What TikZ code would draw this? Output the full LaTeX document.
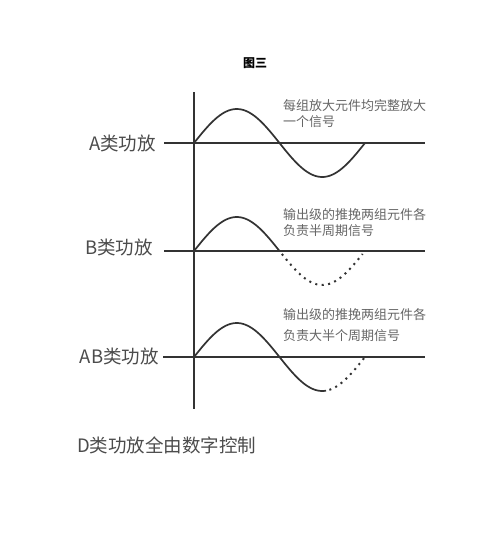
\documentclass[tikz,border=0pt]{standalone}
\usepackage{fontspec}
\newfontfamily\cjk{Noto Sans CJK SC}
\begin{document}
\begin{tikzpicture}[x=1pt,y=-1pt,
  axis/.style={draw=black!80, line width=1.7pt},
  wave/.style={draw=black!80, line width=1.7pt},
  dotwave/.style={draw=black!80, line width=2pt, dash pattern=on 2pt off 4.5pt},
  classlabel/.style={anchor=east, inner sep=0pt, text=black!70, font=\cjk\fontsize{18.5}{20}\selectfont},
  note/.style={anchor=north west, inner sep=0pt, align=left, text=black!60, font=\cjk\fontsize{13}{16}\selectfont},
  title/.style={inner sep=0pt, text=black, font=\cjk\bfseries\fontsize{12}{13}\selectfont}]
\useasboundingbox (0,0) rectangle (500,550);
\fill[white] (0,0) rectangle (500,550);
% title
\node[title] (title) at (255,63) {图三};
% vertical axis
\coordinate (vtop) at (194,92);
\coordinate (vbot) at (194,409);
\draw[axis] (vtop) -- (vbot);
% A
\coordinate (aL) at (164,143); \coordinate (aR) at (425,143);
\draw[axis] (aL) -- (aR);
\node[classlabel] (alab) at (156,143) {A类功放};
\draw[wave] plot[domain=0:360, samples=80] ({194+\x/360*171},{143-34*sin(\x)});
\node[note] (anote) at (283,99) {每组放大元件均完整放大\\一个信号};
% B
\coordinate (bL) at (164,251); \coordinate (bR) at (425,251);
\draw[axis] (bL) -- (bR);
\node[classlabel] (blab) at (153,247) {B类功放};
\draw[wave] plot[domain=0:180, samples=40] ({194+\x/360*171},{251-34*sin(\x)});
\draw[dotwave] plot[domain=185:355, samples=40] ({194+\x/360*171},{251-34*sin(\x)});
\node[note] (bnote) at (283,208) {输出级的推挽两组元件各\\负责半周期信号};
% AB
\coordinate (cL) at (163,357); \coordinate (cR) at (425,357);
\draw[axis] (cL) -- (cR);
\node[classlabel] (clab) at (159,356) {AB类功放};
\draw[wave] plot[domain=0:278, samples=60] ({194+\x/360*171},{357-34*sin(\x)});
\draw[dotwave] plot[domain=285:358, samples=30] ({194+\x/360*171},{357-34*sin(\x)});
\node[note] (cnote) at (283,308) {输出级的推挽两组元件各\\[5pt]负责大半个周期信号};
% D
\node[anchor=west, inner sep=0pt, text=black!70, font=\cjk\fontsize{18.5}{20}\selectfont] (dlab) at (77,445) {D类功放全由数字控制};
\end{tikzpicture}
\end{document}
